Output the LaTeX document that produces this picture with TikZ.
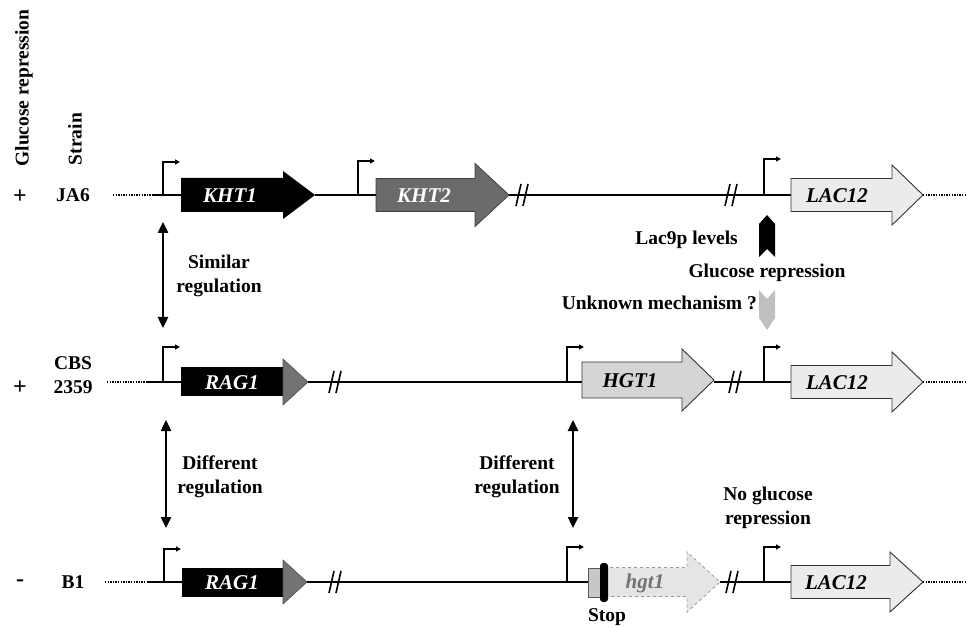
\documentclass[tikz,border=0pt]{standalone}
\usepackage{fontspec}
\setmainfont{Liberation Serif}
\usetikzlibrary{arrows.meta}
\newcommand{\genebox}[7]{%
  \path[#1] (#2,#5-#6) -- (#3,#5-#6) -- (#3,#5-#7) -- (#4,#5) -- (#3,#5+#7) -- (#3,#5+#6) -- (#2,#5+#6) -- cycle;}
\newcommand{\brkmark}[2]{%
  \draw[line width=1.6pt] (#1-6,#2+11) -- (#1-1,#2-11);
  \draw[line width=1.6pt] (#1+1,#2+11) -- (#1+6,#2-11);}
\newcommand{\promo}[3]{%
  \draw[promline] (#1,#2) -- (#1,#3) -- ++(17,0);}
\begin{document}
\begin{tikzpicture}[x=1pt,y=-1pt,
  lbl/.style={font=\fontsize{19.5}{24}\selectfont\bfseries, inner sep=0pt, align=center},
  sgn/.style={font=\fontsize{24}{24}\selectfont\bfseries, inner sep=0pt},
  gtxt/.style={font=\fontsize{21}{24}\selectfont\bfseries\itshape, inner sep=0pt},
  dna/.style={line width=1.3pt},
  dotdna/.style={line width=1.3pt, dash pattern=on 1.3pt off 1.3pt},
  promline/.style={line width=1.4pt, -{Triangle[length=5pt,width=5pt]}},
  dbl/.style={line width=2.4pt, {Triangle[length=11pt,width=10pt]}-{Triangle[length=11pt,width=10pt]}},
  lacfill/.style={fill=black!8, draw=black!80, line width=0.9pt}]
\useasboundingbox (0,0) rectangle (967,628);

% ---------- left labels ----------
\node[lbl, rotate=90] (gr) at (24,88) {Glucose repression};
\node[lbl, rotate=90] (st) at (75,139) {Strain};
\node[sgn] (p1) at (20,197) {+};
\node[lbl] (s1) at (73,195) {JA6};
\node[sgn] (p2) at (20,388) {+};
\node[lbl] (s2) at (73,375) {CBS\\2359};
\node[sgn] (p3) at (20,583) {-};
\node[lbl] (s3) at (73,582) {B1};

% ---------- row 1 : JA6 ----------
\draw[dotdna] (113,195) -- (153,195);
\draw[dna] (153,195) -- (181,195);
\draw[dna] (315,195) -- (376,195);
\draw[dna] (509,195) -- (791,195);
\draw[dotdna] (923,195) -- (967,195);
\brkmark{522}{195}
\brkmark{731}{195}
\promo{163}{195}{162}
\promo{358}{195}{161}
\promo{764}{195}{159}
\genebox{fill=black}{181}{283}{315}{195}{17}{24}
\node[gtxt, text=white] (kht1) at (230,196) {KHT1};
\genebox{fill=black!58, draw=black!75, line width=0.8pt}{376}{475}{509}{195}{16.5}{31.5}
\node[gtxt, text=white] (kht2) at (424,196) {KHT2};
\genebox{lacfill}{791}{892}{923}{195}{16.5}{30}
\node[gtxt] (lac1) at (837,196) {LAC12};

% ---------- row 2 : CBS 2359 ----------
\draw[dotdna] (107,382) -- (147,382);
\draw[dna] (147,382) -- (181,382);
\draw[dna] (308,382) -- (582,382);
\draw[line width=1.9pt] (477,381.6) -- (582,381.6);
\draw[dna] (714,382) -- (791,382);
\draw[dotdna] (923,382) -- (967,382);
\brkmark{335}{382}
\brkmark{735}{382}
\promo{163}{382}{347}
\promo{567}{382}{347}
\promo{764}{382}{347}
\fill[black] (181,367) rectangle (283,396.5);
\filldraw[fill=black!55, draw=black!70, line width=0.6pt] (283,359) -- (308,382) -- (283,405) -- cycle;
\node[gtxt, text=white] (rag2) at (232,383) {RAG1};
\genebox{fill=black!17, draw=black!80, line width=0.9pt}{582}{682}{714}{380}{18}{31}
\node[gtxt] (hgt) at (630,381) {HGT1};
\genebox{lacfill}{791}{892}{923}{382}{16.5}{30}
\node[gtxt] (lac2) at (837,383) {LAC12};

% ---------- row 3 : B1 ----------
\draw[dotdna] (105,582) -- (147,582);
\draw[dna] (147,582) -- (182,582);
\draw[dna] (307,582) -- (588,582);
\draw[line width=1.9pt] (477,581.6) -- (588,581.6);
\draw[dna] (720,582) -- (791,582);
\draw[dotdna] (923,582) -- (967,582);
\brkmark{335}{582}
\brkmark{732}{582}
\promo{164}{582}{549}
\promo{567}{582}{547}
\promo{764}{582}{547}
\fill[black] (182,568) rectangle (283,597);
\filldraw[fill=black!55, draw=black!70, line width=0.6pt] (283,560) -- (307,582) -- (283,604) -- cycle;
\node[gtxt, text=white] (rag3) at (232,583) {RAG1};
\filldraw[fill=black!22, draw=black!65, line width=0.7pt] (588,568) rectangle (602,597);
\genebox{fill=black!10, draw=black!40, dashed, line width=0.8pt}{604}{687}{720}{582}{14.5}{30}
\fill[black, rounded corners=3pt] (600,563) rectangle (608,602);
\node[gtxt, text=black!55] (hgt3) at (645,583) {hgt1};
\node[lbl] (stop) at (607,617) {Stop};
\genebox{lacfill}{791}{890}{923}{582}{16.5}{30}
\node[gtxt] (lac3) at (836,583) {LAC12};

% ---------- regulation arrows ----------
\coordinate (sa) at (163,222);
\coordinate (sb) at (163,328);
\coordinate (da) at (166,420);
\coordinate (db) at (166,528);
\coordinate (ea) at (573,420);
\coordinate (eb) at (573,528);
\draw[dbl] (sa) -- (sb);
\draw[dbl] (da) -- (db);
\draw[dbl] (ea) -- (eb);
\node[lbl] (simreg) at (219,276) {Similar\\regulation};
\node[lbl] (difreg1) at (220,477) {Different\\regulation};
\node[lbl] (difreg2) at (517,477) {Different\\regulation};

% ---------- LAC12 regulation ----------
\fill[black] (767,215) -- (775,224) -- (775,257) -- (767,249) -- (759,257) -- (759,224) -- cycle;
\node[lbl, anchor=east] (lac9p) at (738,240) {Lac9p levels};
\node[lbl] (glrep) at (767,273) {Glucose repression};
\fill[black!25] (759,290) -- (767,299) -- (775,290) -- (775,318) -- (767,330) -- (759,318) -- cycle;
\node[lbl, anchor=east] (unk) at (757,303) {Unknown mechanism ?};
\node[lbl] (noglu) at (768,508) {No glucose\\repression};
\end{tikzpicture}
\end{document}
